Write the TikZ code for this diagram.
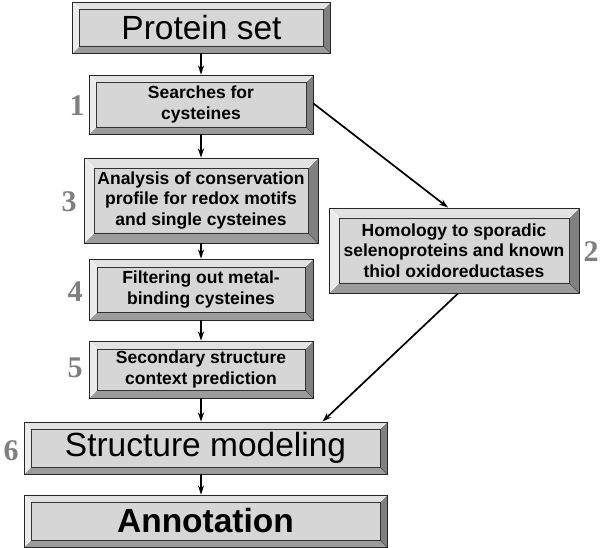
\documentclass[tikz,border=0pt]{standalone}
\usepackage{fontspec}
\setmainfont{Liberation Sans}
\newfontfamily\numfont{Liberation Serif}
\usetikzlibrary{arrows.meta}
\definecolor{facegray}{HTML}{D6D6D6}
\definecolor{toplight}{HTML}{E2E2E2}
\definecolor{leftlight}{HTML}{EBEBEB}
\definecolor{botdark}{HTML}{9C9C9C}
\definecolor{rightdark}{HTML}{808080}
\definecolor{numgray}{HTML}{7F7F7F}
\tikzset{
  bev/.style={draw=black!85, line width=0.9pt, fill=facegray, inner sep=0pt, align=center, text=black,
    path picture={
      \coordinate (ppnw) at (path picture bounding box.north west);
      \coordinate (ppne) at (path picture bounding box.north east);
      \coordinate (ppsw) at (path picture bounding box.south west);
      \coordinate (ppse) at (path picture bounding box.south east);
      \coordinate (pinw) at ([xshift=#1pt,yshift=-#1pt]ppnw);
      \coordinate (pine) at ([xshift=-#1pt,yshift=-#1pt]ppne);
      \coordinate (pisw) at ([xshift=#1pt,yshift=#1pt]ppsw);
      \coordinate (pise) at ([xshift=-#1pt,yshift=#1pt]ppse);
      \fill[toplight] (ppnw) -- (ppne) -- (pine) -- (pinw) -- cycle;
      \fill[leftlight] (ppnw) -- (ppsw) -- (pisw) -- (pinw) -- cycle;
      \fill[botdark] (ppsw) -- (ppse) -- (pise) -- (pisw) -- cycle;
      \fill[rightdark] (ppne) -- (ppse) -- (pise) -- (pine) -- cycle;
      \draw[white, line width=0.5pt] (ppnw) -- (pinw) (ppsw) -- (pisw) (ppne) -- (pine);
      \draw[black!70, line width=0.5pt] (ppse) -- (pise);
      \draw[black!80, line width=0.7pt] (pinw) rectangle (pise);
    }},
  bev/.default=7,
  small/.style={font=\bfseries\fontsize{17.5}{20.5}\selectfont},
  big/.style={font=\fontsize{33.5}{36}\selectfont},
  num/.style={font=\numfont\bfseries\fontsize{30}{30}\selectfont, text=numgray, inner sep=0pt},
  arr/.style={-{Stealth[length=9pt,width=6pt]}, line width=1.7pt, black}
}
\begin{document}
\begin{tikzpicture}[x=1pt,y=-1pt]
\useasboundingbox (0,0) rectangle (600,548);
\node[bev=7, big, minimum width=258pt, minimum height=51pt] (prot) at (201.5,27.5) {Protein set};
\node[bev=7, small, minimum width=224pt, minimum height=59pt] (search) at (201,104.5) {Searches for\\cysteines};
\node[bev=10, small, minimum width=234pt, minimum height=85pt] (anal) at (201,200.5) {Analysis of conservation\\profile for redox motifs\\and single cysteines};
\node[bev=8, small, minimum width=224pt, minimum height=61pt] (filt) at (201,289.5) {Filtering out metal-\\binding cysteines};
\node[bev=8, small, minimum width=224pt, minimum height=57pt] (sec) at (201,369.5) {Secondary structure\\context prediction};
\node[bev=10, small, minimum width=250pt, minimum height=85pt] (hom) at (454,250.5) {Homology to sporadic\\selenoproteins and known\\thiol oxidoreductases};
\node[bev=7, big, minimum width=363pt, minimum height=52pt] (struct) at (205.5,448) {Structure modeling};
\node[bev=7, big, font=\bfseries\fontsize{33.5}{36}\selectfont, minimum width=363pt, minimum height=52pt] (annot) at (205.5,521) {Annotation};

\node[num] (n1) at (77,106) {1};
\node[num] (n3) at (69,202) {3};
\node[num] (n4) at (75,292) {4};
\node[num] (n5) at (75,368) {5};
\node[num] (n6) at (11,451) {6};
\node[num] (n2) at (591,252) {2};

\draw[arr] (search.north |- prot.south) -- (search);
\draw[arr] (search) -- (anal);
\draw[arr] (anal) -- (filt);
\draw[arr] (filt) -- (sec);
\draw[arr] (sec.south) -- (sec.south |- struct.north);
\draw[arr] ([xshift=-4.5pt]struct.south) -- ([xshift=-4.5pt]annot.north);
\draw[arr] ([yshift=1pt]search.east) -- ([xshift=-6pt]hom.north);
\draw[arr] ([xshift=4pt]hom.south) -- ([xshift=117pt]struct.north);
\end{tikzpicture}
\end{document}
